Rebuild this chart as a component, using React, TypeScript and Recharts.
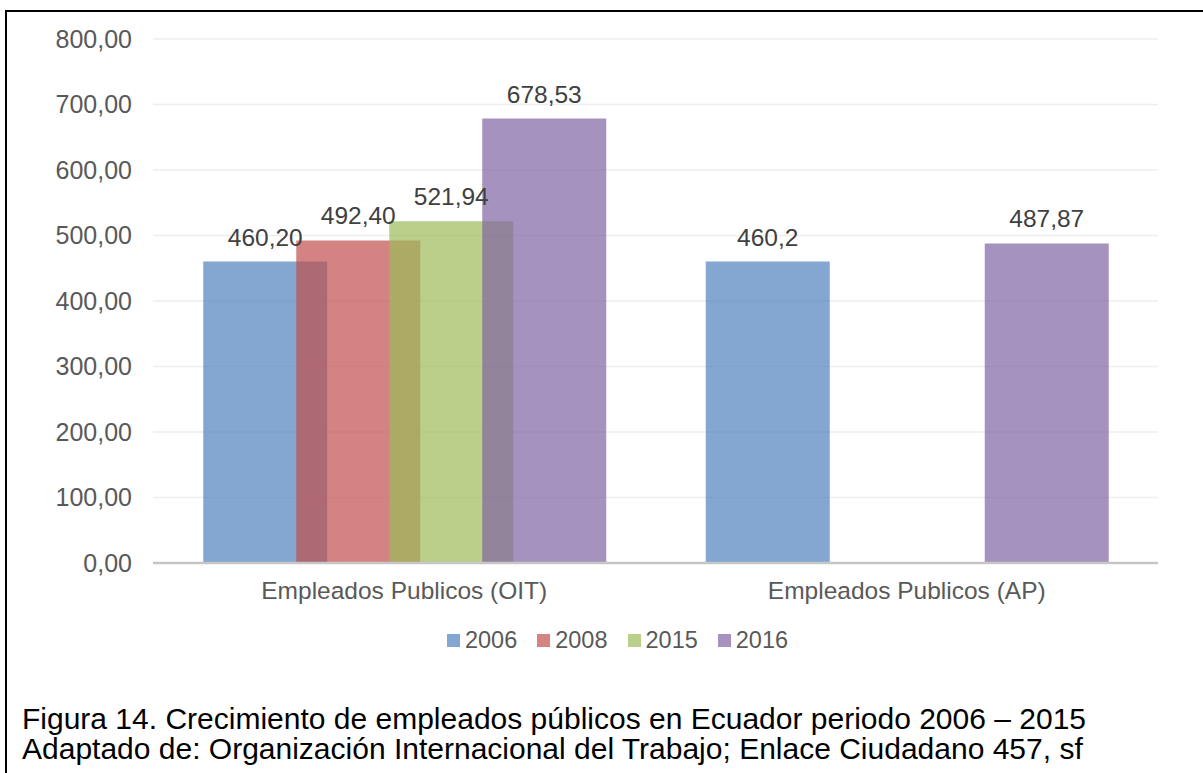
import {
  BarChart,
  Bar,
  XAxis,
  YAxis,
  CartesianGrid,
  Legend,
  LabelList,
} from "recharts";

// categories and values
const categories = ["Empleados Publicos (OIT)", "Empleados Publicos (AP)"];
const years = ["2006", "2008", "2015", "2016"];
const values2006 = [460.2, 460.2];
const values2008 = [492.4, null];
const values2015 = [521.94, null];
const values2016 = [678.53, 487.87];
// data labels as printed on the chart
const labels2006 = ["460,20", "460,2"];
const labels2008 = ["492,40", null];
const labels2015 = ["521,94", null];
const labels2016 = ["678,53", "487,87"];
const yTicks = [0, 100, 200, 300, 400, 500, 600, 700, 800];

const colors = ["#4F81BD", "#C0504D", "#9BBB59", "#8064A2"];

const data = categories.map((name, i) => ({
  name,
  y2006: values2006[i],
  y2008: values2008[i],
  y2015: values2015[i],
  y2016: values2016[i],
  l2006: labels2006[i],
  l2008: labels2008[i],
  l2015: labels2015[i],
  l2016: labels2016[i],
}));

const font = "'Liberation Sans', Arial, sans-serif";

// legend drawn by hand so the swatches get the same faded look as the bars
const renderLegend = () => (
  <div
    style={{
      display: "flex",
      justifyContent: "center",
      alignItems: "center",
      gap: 20,
      height: 30,
      paddingLeft: 24,
      fontSize: 23.5,
      fontFamily: font,
      color: "#595959",
    }}
  >
    {years.map((y, i) => (
      <div key={y} style={{ display: "flex", alignItems: "center" }}>
        <span
          style={{
            display: "inline-block",
            width: 13,
            height: 13,
            background: colors[i],
            opacity: 0.7,
            marginRight: 5,
          }}
        />
        <span>{y}</span>
      </div>
    ))}
  </div>
);

export default function App() {
  return (
    <div
      style={{
        position: "absolute",
        left: 0,
        top: 0,
        width: 1203,
        height: 773,
        background: "#fff",
        fontFamily: font,
        overflow: "hidden",
      }}
    >
      {/* frame of the figure (only left and top edges visible) */}
      <div
        style={{
          position: "absolute",
          left: 5,
          top: 10,
          width: 1300,
          height: 900,
          borderLeft: "2px solid #000",
          borderTop: "2px solid #000",
        }}
      />
      <div style={{ position: "absolute", left: 0, top: 0 }}>
        <BarChart
          width={1203}
          height={680}
          data={data}
          margin={{ top: 39, right: 45, bottom: 25, left: 53 }}
          barCategoryGap="10%"
          barGap={-31}
        >
          <CartesianGrid vertical={false} stroke="#EEEEEE" strokeWidth={1.5} />
          <XAxis
            dataKey="name"
            axisLine={{ stroke: "#C6C6C6", strokeWidth: 2.5 }}
            tickLine={false}
            tickMargin={13}
            height={62}
            tick={{ fill: "#595959", fontSize: 24.5, fontFamily: font }}
          />
          <YAxis
            domain={[0, 800]}
            ticks={yTicks}
            axisLine={false}
            tickLine={false}
            tickSize={0}
            tickMargin={21}
            width={100}
            tickFormatter={(v: number) => v.toFixed(2).replace(".", ",")}
            tick={{ fill: "#595959", fontSize: 25, fontFamily: font }}
          />
          <Legend
            verticalAlign="bottom"
            wrapperStyle={{ height: 30 }}
            content={renderLegend}
          />
          {years.map((y, i) => (
            <Bar
              key={y}
              dataKey={"y" + y}
              name={y}
              fill={colors[i]}
              fillOpacity={0.7}
              isAnimationActive={false}
            >
              <LabelList
                dataKey={"l" + y}
                position="top"
                offset={16}
                fill="#404040"
                fontSize={24.5}
                fontFamily={font}
              />
            </Bar>
          ))}
        </BarChart>
      </div>
      <div
        style={{
          position: "absolute",
          left: 22,
          top: 704,
          fontSize: 30,
          lineHeight: "30px",
          color: "#000",
          whiteSpace: "nowrap",
        }}
      >
        <div>Figura 14. Crecimiento de empleados públicos en Ecuador periodo 2006 – 2015</div>
        <div>Adaptado de: Organización Internacional del Trabajo; Enlace Ciudadano 457, sf</div>
      </div>
    </div>
  );
}
